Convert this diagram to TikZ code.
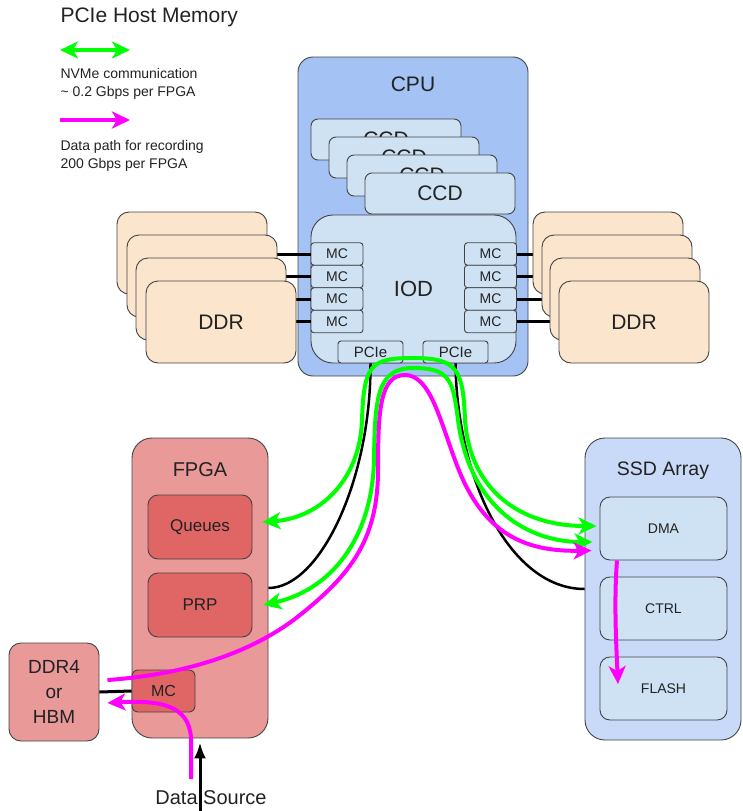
\documentclass[tikz,border=0pt]{standalone}
\usepackage{fontspec}
\setmainfont{Liberation Sans}
\usepackage{tikz}
\usetikzlibrary{arrows.meta}

\definecolor{cpublue}{HTML}{A4C2F4}
\definecolor{paleblue}{HTML}{CFE2F3}
\definecolor{ssdblue}{HTML}{C9DAF8}
\definecolor{peach}{HTML}{FCE5CD}
\definecolor{fpgared}{HTML}{EA9999}
\definecolor{fpgainner}{HTML}{E06666}
\definecolor{edgegray}{HTML}{434343}
\definecolor{ink}{HTML}{222222}
\definecolor{nvmegreen}{HTML}{00FF00}
\definecolor{recmagenta}{HTML}{FF00FF}

\begin{document}
\begin{tikzpicture}[
        x=1pt, y=-1pt,
        box/.style={draw=edgegray, line width=0.9pt, inner sep=0pt, text=ink},
        chip/.style={box, fill=paleblue, rounded corners=7pt, minimum width=150pt, minimum height=41pt, font=\fontsize{21}{24}\selectfont},
        ddr/.style={box, fill=peach, rounded corners=12pt, minimum width=150pt, minimum height=82pt, font=\fontsize{21}{24}\selectfont},
        mc/.style={box, fill=paleblue, rounded corners=3pt, minimum width=52pt, minimum height=22.5pt, font=\fontsize{14}{16}\selectfont},
        pcie/.style={box, fill=paleblue, rounded corners=3pt, minimum width=65pt, minimum height=22pt, font=\fontsize{15}{17}\selectfont},
        fblock/.style={box, fill=fpgainner, rounded corners=10pt, minimum width=104pt, minimum height=64pt, font=\fontsize{17}{20}\selectfont},
        sblock/.style={box, fill=paleblue, rounded corners=10pt, minimum width=127pt, minimum height=63pt, font=\fontsize{14}{16}\selectfont},
        heading/.style={text=ink, font=\fontsize{20}{24}\selectfont},
        legend/.style={text=ink, anchor=west, align=left, font=\fontsize{14}{18}\selectfont},
        bus/.style={line width=3pt, black},
        link/.style={line width=2.5pt, black},
        nvme/.style={line width=4pt, nvmegreen, line join=round,
            {Stealth[length=18pt,width=17pt,inset=5pt]}-{Stealth[length=18pt,width=17pt,inset=5pt]}},
        rec/.style={line width=4pt, recmagenta, line join=round,
            -{Stealth[length=18pt,width=17pt,inset=5pt]}},
        feed/.style={line width=3pt, black, -{Latex[length=16pt,width=12pt]}}
    ]
        \useasboundingbox (0,0) rectangle (743,811);

        % Legend
        \node[legend, font=\fontsize{21}{24}\selectfont] (title) at (57,17) {PCIe Host Memory};
        \coordinate (lg1a) at (60,50);
        \coordinate (lg1b) at (130,50);
        \draw[nvme] (lg1a) -- (lg1b);
        \node[legend] (nvmetext) at (57,84) {NVMe communication\\\textasciitilde{} 0.2 Gbps per FPGA};
        \coordinate (lg2a) at (60,120);
        \coordinate (lg2b) at (130,120);
        \draw[rec] (lg2a) -- (lg2b);
        \node[legend] (rectext) at (57,156) {Data path for recording\\200 Gbps per FPGA};

        % CPU package
        \node[box, fill=cpublue, rounded corners=15pt, minimum width=230pt, minimum height=319pt] (cpu) at (413,216.5) {};
        \node[heading, font=\fontsize{21}{24}\selectfont] (cpulabel) at ([yshift=-28pt]cpu.north) {CPU};

        % CCD stack
        \node[chip] (ccd1) at (386,139.5) {CCD};
        \node[chip] (ccd2) at (404,157.5) {CCD};
        \node[chip] (ccd3) at (422,175.5) {CCD};
        \node[chip] (ccd4) at (440,193.5) {CCD};

        % IOD with memory controllers and PCIe
        \node[box, fill=paleblue, rounded corners=22pt, minimum width=205pt, minimum height=148pt, font=\fontsize{22}{26}\selectfont] (iod) at (413.5,289) {IOD};
        \node[mc] (mcl1) at (337,254) {MC};
        \node[mc] (mcl2) at (337,276.5) {MC};
        \node[mc] (mcl3) at (337,299) {MC};
        \node[mc] (mcl4) at (337,321.5) {MC};
        \node[mc] (mcr1) at (490.5,254) {MC};
        \node[mc] (mcr2) at (490.5,276.5) {MC};
        \node[mc] (mcr3) at (490.5,299) {MC};
        \node[mc] (mcr4) at (490.5,321.5) {MC};
        \node[pcie] (pcie1) at (370.5,352) {PCIe};
        \node[pcie] (pcie2) at (455.5,352) {PCIe};

        % Memory channels (hidden ends go under the DDR stacks)
        \draw[bus] (mcl1.west) -- ++(-60,0);
        \draw[bus] (mcl2.west) -- ++(-60,0);
        \draw[bus] (mcl3.west) -- ++(-60,0);
        \draw[bus] (mcl4.west) -- ++(-60,0);
        \draw[bus] (mcr1.east) -- ++(60,0);
        \draw[bus] (mcr2.east) -- ++(60,0);
        \draw[bus] (mcr3.east) -- ++(60,0);
        \draw[bus] (mcr4.east) -- ++(60,0);

        % DDR stacks
        \node[ddr] (ddrl1) at (192,253) {};
        \node[ddr] (ddrl2) at (202,276) {};
        \node[ddr] (ddrl3) at (211,299) {};
        \node[ddr] (ddrl4) at (221,322) {DDR};
        \node[ddr] (ddrr1) at (608,253) {};
        \node[ddr] (ddrr2) at (617,276) {};
        \node[ddr] (ddrr3) at (625,299) {};
        \node[ddr] (ddrr4) at (634,322) {DDR};

        % FPGA
        \node[box, fill=fpgared, rounded corners=20pt, minimum width=136pt, minimum height=300pt] (fpga) at (200,588) {};
        \node[heading] (fpgalabel) at ([yshift=-32pt]fpga.north) {FPGA};
        \node[fblock] (queues) at (200,527) {Queues};
        \node[fblock] (prp) at (200,605) {PRP};
        \node[box, fill=fpgainner, rounded corners=6pt, minimum width=63pt, minimum height=42pt, font=\fontsize{16}{18}\selectfont] (fmc) at (163.5,691) {MC};

        % External memory
        \node[box, fill=fpgared, rounded corners=12pt, minimum width=90pt, minimum height=98pt, align=center, font=\fontsize{19}{25}\selectfont] (ddr4) at (54,692) {DDR4\\or\\HBM};
        \draw[bus] (ddr4.east) -- (fmc.west);

        % SSD array
        \node[box, fill=ssdblue, rounded corners=20pt, minimum width=156pt, minimum height=302pt] (ssd) at (663,589) {};
        \node[heading, font=\fontsize{19.5}{24}\selectfont] (ssdlabel) at ([yshift=-33pt]ssd.north) {SSD Array};
        \node[sblock] (dma) at (663.5,528.5) {DMA};
        \node[sblock] (ctrl) at (663.5,608.5) {CTRL};
        \node[sblock] (flash) at (663.5,688.5) {FLASH};

        % PCIe links
        \draw[link] (pcie1.south) .. controls (371,480) and (320,588) .. (fpga.east);
        \draw[link] (pcie2.south) .. controls (457,480) and (510,589) .. (ssd.west);

        % NVMe traffic
        \draw[nvme] ([shift={(10,-5)}]queues.east) .. controls (320,518) and (360,480) .. (362,420)
            .. controls (364,365) and (370,358) .. (413,358)
            .. controls (458,358) and (463,370) .. (465,420)
            .. controls (470,490) and (520,526) .. ([shift={(-3,-2.5)}]dma.west);
        \draw[nvme] ([xshift=11pt]prp.east) .. controls (330,590) and (372,540) .. (374,460)
            .. controls (375,400) and (376,368) .. (413,368)
            .. controls (450,368) and (453,380) .. (458,420)
            .. controls (470,510) and (530,542) .. ([shift={(-7,13.5)}]dma.west);

        % Recording data path
        \coordinate (recsrc) at (191,779);
        \draw[rec] (recsrc) -- (191,738) .. controls (189,705) and (160,700) .. ([shift={(8,11)}]ddr4.east);
        \draw[rec] ([shift={(8,-12)}]ddr4.east) .. controls (180,675) and (250,655) .. (300,615)
            .. controls (350,575) and (378,540) .. (378,470)
            .. controls (378,410) and (380,375) .. (405,375)
            .. controls (430,375) and (440,420) .. (455,460)
            .. controls (480,530) and (520,552) .. ([shift={(-8,22)}]dma.west);
        \draw[rec] ([xshift=-46.5pt]dma.south) .. controls (614,600) and (616,640) .. ([shift={(-45.5,-4.5)}]flash.center);

        % Data source
        \node[heading] (srclabel) at (211,798) {Data Source};
        \coordinate (src) at (200,811);
        \draw[feed] (src) -- ([yshift=-4pt]fpga.south);
\end{tikzpicture}
\end{document}
